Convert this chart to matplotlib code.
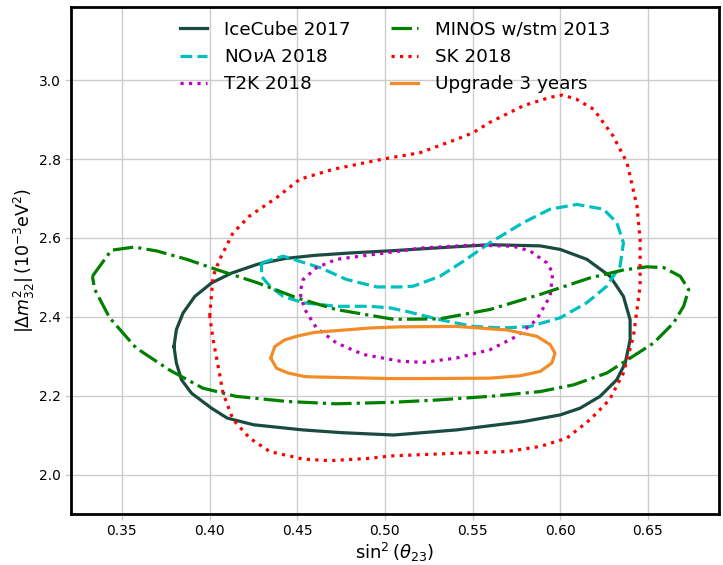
import matplotlib
matplotlib.use("Agg")
import matplotlib.pyplot as plt

# ---- data (traced contour points: sin^2(theta23), |dm^2_32| in 1e-3 eV^2) ----
icecube_x = [0.3797, 0.3811, 0.3849, 0.3916, 0.4011, 0.4125, 0.4277, 0.443, 0.460, 0.480,
             0.505, 0.530, 0.560, 0.5885, 0.600, 0.6151, 0.6284, 0.636, 0.6398, 0.6398,
             0.637, 0.6322, 0.6227, 0.6113, 0.600, 0.579, 0.541, 0.505, 0.475, 0.453,
             0.425, 0.410, 0.4011, 0.3897, 0.384, 0.3811, 0.3797]
icecube_y = [2.325, 2.368, 2.410, 2.452, 2.486, 2.511, 2.534, 2.548, 2.556, 2.562,
             2.568, 2.575, 2.583, 2.580, 2.571, 2.546, 2.503, 2.452, 2.393, 2.342,
             2.283, 2.241, 2.199, 2.169, 2.152, 2.135, 2.114, 2.101, 2.107, 2.114,
             2.127, 2.144, 2.169, 2.207, 2.241, 2.283, 2.325]

nova_x = [0.4296, 0.442, 0.4629, 0.4781, 0.4953, 0.5086, 0.5162, 0.5314, 0.5447, 0.5599,
          0.5789, 0.5942, 0.6094, 0.6246, 0.6322, 0.636, 0.6341, 0.6265, 0.6151, 0.600,
          0.5828, 0.5675, 0.5504, 0.5314, 0.5124, 0.5028, 0.4914, 0.4724, 0.4534, 0.442,
          0.4344, 0.4296, 0.4296]
nova_y = [2.537, 2.554, 2.525, 2.495, 2.476, 2.476, 2.478, 2.503, 2.541, 2.588,
          2.639, 2.673, 2.685, 2.673, 2.639, 2.588, 2.529, 2.478, 2.436, 2.398,
          2.376, 2.372, 2.376, 2.393, 2.414, 2.423, 2.427, 2.427, 2.436, 2.452,
          2.478, 2.503, 2.537]

t2k_x = [0.5086, 0.4724, 0.461, 0.4534, 0.4515, 0.4543, 0.461, 0.4724, 0.4876, 0.5086,
         0.5219, 0.5409, 0.5599, 0.5751, 0.5865, 0.5942, 0.5957, 0.5923, 0.5828, 0.5732,
         0.5504, 0.5219, 0.5086]
t2k_y = [2.567, 2.546, 2.525, 2.495, 2.461, 2.419, 2.372, 2.334, 2.305, 2.288,
         2.285, 2.296, 2.317, 2.351, 2.393, 2.453, 2.512, 2.537, 2.567, 2.579,
         2.582, 2.575, 2.567]

minos_x = [0.3332, 0.344, 0.357, 0.370, 0.387, 0.404, 0.427, 0.450, 0.472, 0.505, 0.531,
           0.560, 0.5885, 0.617, 0.636, 0.6494, 0.6589, 0.6684, 0.6732, 0.6703, 0.6646,
           0.6532, 0.6399, 0.6265, 0.6075, 0.5885, 0.560, 0.531, 0.505, 0.472, 0.444,
           0.415, 0.396, 0.377, 0.358, 0.343, 0.3345, 0.3332]
minos_y = [2.503, 2.569, 2.577, 2.567, 2.546, 2.520, 2.487, 2.448, 2.419, 2.394, 2.395,
           2.419, 2.457, 2.499, 2.519, 2.527, 2.525, 2.503, 2.469, 2.427, 2.385,
           2.334, 2.296, 2.258, 2.228, 2.211, 2.199, 2.190, 2.184, 2.180, 2.186,
           2.199, 2.220, 2.266, 2.322, 2.398, 2.470, 2.503]

sk_x = [0.4001, 0.402, 0.4058, 0.4134, 0.4229, 0.4382, 0.4515, 0.4705, 0.499, 0.520, 0.5409,
        0.5504, 0.5599, 0.579, 0.594, 0.601, 0.609, 0.619, 0.630, 0.638, 0.6437, 0.6455,
        0.6455, 0.6417, 0.636, 0.628, 0.617, 0.6037, 0.5885, 0.5695, 0.541, 0.503, 0.4914,
        0.4686, 0.4534, 0.4344, 0.4229, 0.4134, 0.4077, 0.4049, 0.402, 0.4001]
sk_y = [2.402, 2.503, 2.546, 2.613, 2.656, 2.702, 2.749, 2.774, 2.800, 2.816, 2.850,
        2.867, 2.893, 2.935, 2.956, 2.962, 2.952, 2.926, 2.859, 2.791, 2.681, 2.596,
        2.478, 2.351, 2.258, 2.190, 2.140, 2.093, 2.072, 2.059, 2.055, 2.048, 2.042,
        2.036, 2.040, 2.059, 2.093, 2.140, 2.207, 2.275, 2.343, 2.402]

upgrade_x = [0.4349, 0.4372, 0.4429, 0.4505, 0.460, 0.4914, 0.5086, 0.5409, 0.5695, 0.5866,
             0.5942, 0.597, 0.5951, 0.5885, 0.577, 0.5599, 0.5219, 0.5028, 0.460, 0.4543,
             0.4448, 0.4382, 0.4349]
upgrade_y = [2.296, 2.325, 2.342, 2.352, 2.361, 2.372, 2.375, 2.376, 2.367, 2.351,
             2.330, 2.308, 2.283, 2.262, 2.251, 2.245, 2.244, 2.244, 2.248, 2.249,
             2.258, 2.270, 2.296]

x_ticks = [0.35, 0.40, 0.45, 0.50, 0.55, 0.60, 0.65]
y_ticks = [2.0, 2.2, 2.4, 2.6, 2.8, 3.0]

# ---- figure ----
fig = plt.figure(figsize=(7.23, 5.65), dpi=100)
ax = fig.add_axes([0.0982, 0.0903, 0.8963, 0.8973])

lw = 2.3
ax.plot(icecube_x, icecube_y, color='#1a4a40', lw=lw, ls='-', label='IceCube 2017')
ax.plot(nova_x, nova_y, color='#00bfbf', lw=lw, ls='--', label=r'NO$\nu$A 2018')
ax.plot(t2k_x, t2k_y, color='#bf00bf', lw=lw, ls=':', label='T2K 2018')
ax.plot(minos_x, minos_y, color='#008000', lw=lw, ls='-.', label='MINOS w/stm 2013')
ax.plot(sk_x, sk_y, color='#ff0000', lw=lw, ls=':', label='SK 2018')
ax.plot(upgrade_x, upgrade_y, color='#f28c28', lw=lw, ls='-', label='Upgrade 3 years')

ax.set_xlim(0.321, 0.6905)
ax.set_ylim(1.901, 3.185)
ax.set_xticks(x_ticks)
ax.set_xticklabels([f"{v:.2f}" for v in x_ticks])
ax.set_yticks(y_ticks)
ax.set_yticklabels([f"{v:.1f}" for v in y_ticks])
ax.grid(True, color='#cccccc', lw=1)
ax.set_axisbelow(True)
ax.tick_params(axis='both', labelsize=10, color='#cccccc', length=4, width=1)
for s in ax.spines.values():
    s.set_linewidth(2.0)
    s.set_color('black')

ax.set_xlabel(r'$\sin^2(\theta_{23})$', fontsize=13, labelpad=2)
ax.set_ylabel(r'$|\Delta m^2_{32}|\,(10^{-3}\mathrm{eV}^2)$', fontsize=12.5, labelpad=1)

ax.legend(loc='upper center', ncol=2, frameon=False, fontsize=13.2,
          labelspacing=0.5, handlelength=1.5, handletextpad=0.9,
          columnspacing=2.2, borderaxespad=0.35)

fig.savefig('out.png', dpi=100)
